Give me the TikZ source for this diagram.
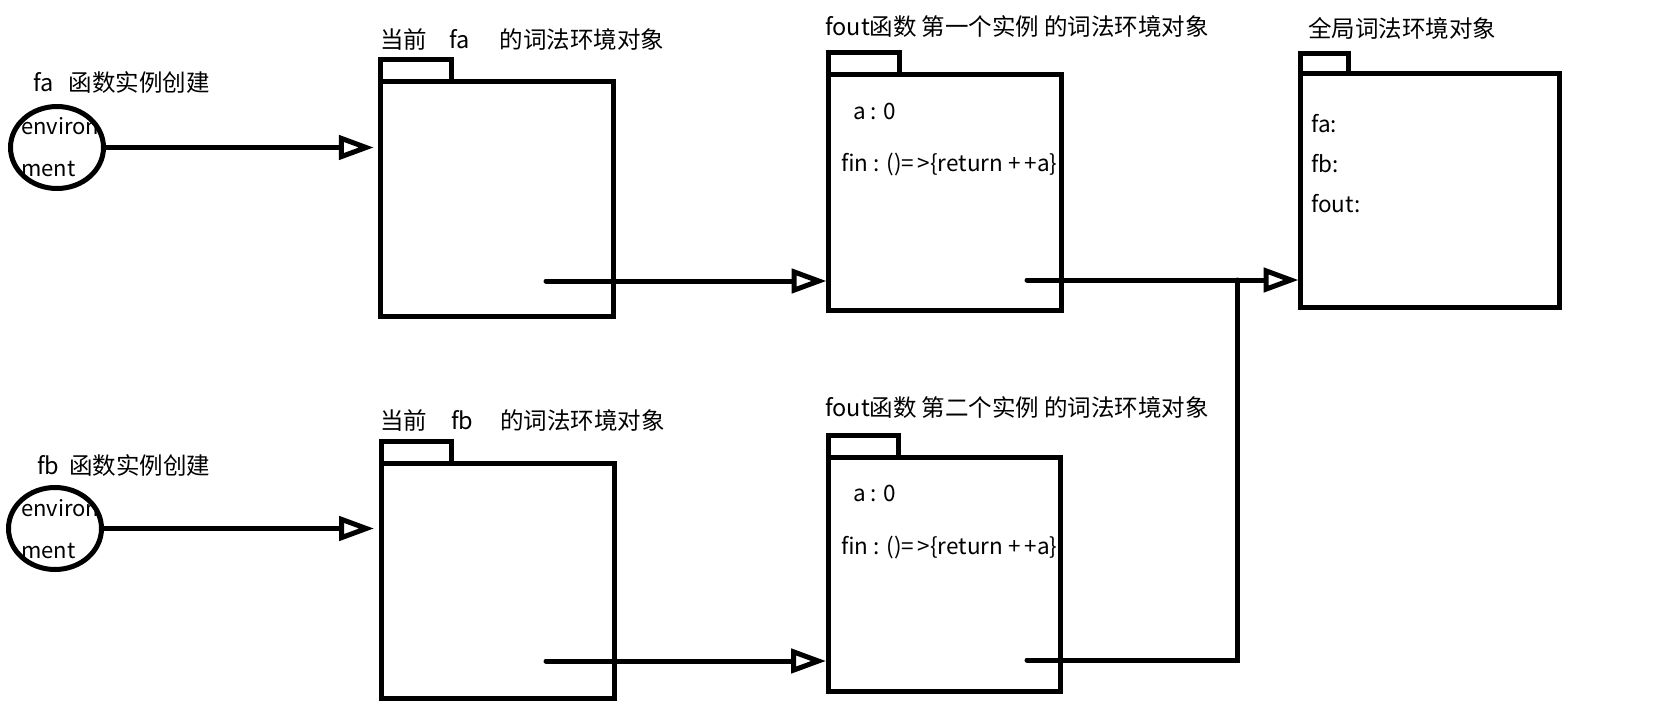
\documentclass[tikz,border=0pt]{standalone}
\usepackage{fontspec}
\setmainfont{Noto Sans CJK SC}
\usetikzlibrary{positioning, arrows.meta, shapes.geometric}
\tikzset{
every node/.style = {font = \fontsize{23.5}{28}\selectfont},
frame/.style = {rectangle, draw, line width = 5pt, inner sep = 0pt, outer sep = 0pt,
	minimum width = 233pt, minimum height = 234pt},
tab/.style = {rectangle, draw, line width = 5pt, inner sep = 0pt, outer sep = 0pt,
	minimum width = 71pt, minimum height = 22pt, anchor = south west},
heading/.style = {anchor = west, inner sep = 0pt},
entry/.style = {anchor = west, inner sep = 0pt, font = \fontsize{22.5}{27}\selectfont},
env/.style = {ellipse, draw, line width = 5pt, inner sep = 0pt, minimum width = 93pt,
	minimum height = 82pt},
envtext/.style = {anchor = west, inner sep = 0pt, align = left,
	font = \fontsize{22}{33}\selectfont},
link/.style = {-{Triangle[open, length = 35pt, width = 24pt]}, line width = 5pt,
	line cap = round, shorten > = 2pt},
wire/.style = {line width = 5pt, line cap = round},
}

\begin{document}
\begin{tikzpicture}[x = 1pt, y = -1pt]

\path [use as bounding box, fill = white] (0, 0) rectangle (1672, 722);

%% Function instances
% fa
\node at (57, 147.5) [env] (env-a) {};
\node at (21, 147.5) [envtext] (env-a-text) {environ\\[9pt]ment};
\node at (33, 83) [heading] (fa-made) {fa\hspace{15pt}函数实例创建};
% fb
\node at (55, 528.5) [env] (env-b) {};
\node at (21, 529) [envtext] (env-b-text) {environ\\[9pt]ment};
\node at (37, 466) [heading] (fb-made) {fb\hspace{10pt}函数实例创建};

%% Lexical environments
% Current ones
\node at (497.25, 199) [frame] (fa) {};
\node [tab] (fa-tab) at (fa.north west) {};
\node at (380, 40) [heading] (fa-title) {当前\hspace{22pt}fa\hspace{30pt}的词法环境对象};

\node at (497.5, 580.5) [frame, minimum height = 235pt] (fb) {};
\node [tab, minimum width = 70pt] (fb-tab) at (fb.north west) {};
\node at (380, 421) [heading] (fb-title) {当前\hspace{24pt}fb\hspace{27pt}的词法环境对象};

% fout instances
\node at (944.75, 192.25) [frame, minimum width = 232.5pt, minimum height = 235.5pt] (fout1) {};
\node [tab] (fout1-tab) at (fout1.north west) {};
\node at (825, 27) [heading] (fout1-title) {fout函数\hspace{5pt}第一个实例\hspace{5pt}的词法环境对象};
\node at (853, 111) [entry] (fout1-a) {a : 0};
\node at (841, 165) [entry] (fout1-fin) {fin : ()=\,>\{return +\,+a\}};

\node at (944, 574) [frame, minimum width = 232pt] (fout2) {};
\node [tab, minimum width = 70.5pt] (fout2-tab) at (fout2.north west) {};
\node at (825, 408) [heading] (fout2-title) {fout函数\hspace{5pt}第二个实例\hspace{5pt}的词法环境对象};
\node at (853, 493) [entry] (fout2-a) {a : 0};
\node at (841, 547) [entry] (fout2-fin) {fin : ()=\,>\{return +\,+a\}};

% Global
\node at (1430, 190.5) [frame, minimum width = 259pt, minimum height = 233pt] (global) {};
\node [tab, minimum width = 48pt, minimum height = 20pt] (global-tab) at (global.north west) {};
\node at (1308, 28) [heading] (global-title) {全局词法环境对象};
\node at (1311, 124) [entry] (global-fa) {fa:};
\node at (1311, 164) [entry] (global-fb) {fb:};
\node at (1311, 204) [entry] (global-fout) {fout:};

%% Links
\draw [link, shorten > = 7pt] (env-a) -- (env-a -| fa.west);
\draw [link, shorten > = 7pt] (env-b) -- (env-b -| fb.west);

\coordinate (fa-out) at (546, 281);
\coordinate (fb-out) at (546, 661);
\draw [link] (fa-out) -- (fa-out -| fout1.west);
\draw [link] (fb-out) -- (fb-out -| fout2.west);

\coordinate (fout1-out) at (1027, 280);
\coordinate (fout2-out) at (1027, 660);
\coordinate (join) at (1237, 280);
\draw [link] (fout1-out) -- (fout1-out -| global.west);
\draw [wire] (fout2-out) -| (join);

\end{tikzpicture}
\end{document}
